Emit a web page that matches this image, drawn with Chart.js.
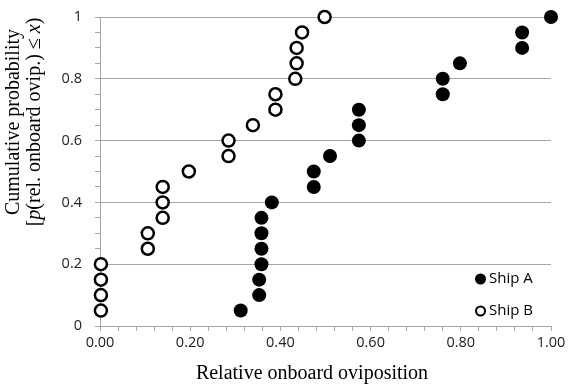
<!DOCTYPE html>
<html>
<head>
<meta charset="utf-8">
<script src="https://cdn.jsdelivr.net/npm/chart.js@4.4.0/dist/chart.umd.min.js"></script>
<style>
  html, body { margin: 0; padding: 0; background: #fff; }
  #wrap { width: 568px; height: 388px; position: relative; }
</style>
</head>
<body>
<div id="wrap"><canvas id="c" width="568" height="388"></canvas></div>
<script>
// ---- data ----
const seriesNames = ['Ship A', 'Ship B'];
const cumProb = [0.05, 0.10, 0.15, 0.20, 0.25, 0.30, 0.35, 0.40, 0.45, 0.50,
                 0.55, 0.60, 0.65, 0.70, 0.75, 0.80, 0.85, 0.90, 0.95, 1.00];
const shipA = [0.312, 0.353, 0.353, 0.358, 0.358, 0.358, 0.358, 0.381, 0.474, 0.474,
               0.510, 0.574, 0.574, 0.574, 0.760, 0.760, 0.798, 0.936, 0.936, 1.000];
const shipB = [0.002, 0.002, 0.002, 0.002, 0.106, 0.106, 0.139, 0.139, 0.139, 0.197,
               0.285, 0.285, 0.339, 0.389, 0.389, 0.433, 0.436, 0.436, 0.448, 0.498];
const xTickLabels = ['0.00', '0.20', '0.40', '0.60', '0.80', '1.00'];
const yTickLabels = ['0', '0.2', '0.4', '0.6', '0.8', '1'];
const xTitle = 'Relative onboard oviposition';
const yTitle1 = 'Cumulative probability';
const yTitle2 = [['[', false], ['p', true], ['(rel. onboard ovip.) \u2264 ', false], ['x', true], [')', false]];

const GRID = '#a6a6a6';
const TICKFONT = { family: "'Open Sans', 'Noto Sans', sans-serif", size: 14.5 };
const SERIF = "'Liberation Serif', 'DejaVu Serif', serif";

function majorIndex(v) {
  const r = v / 0.2;
  const k = Math.round(r);
  return Math.abs(r - k) < 1e-6 ? k : -1;
}

const toPts = (xs) => xs.map((x, i) => ({ x: x, y: cumProb[i] }));

const titlesAndLegend = {
  id: 'titlesAndLegend',
  afterDraw(chart) {
    const ctx = chart.ctx;
    ctx.save();
    ctx.fillStyle = '#000';
    ctx.textBaseline = 'middle';
    // x title
    ctx.font = '20px ' + SERIF;
    ctx.textAlign = 'center';
    ctx.fillText(xTitle, 312, 374);
    // y title (rotated)
    ctx.save();
    ctx.translate(14, 122);
    ctx.rotate(-Math.PI / 2);
    ctx.textAlign = 'center';
    ctx.font = '20px ' + SERIF;
    ctx.fillText(yTitle1, 0, 0);
    let total = 0;
    yTitle2.forEach(([t, it]) => {
      ctx.font = (it ? 'italic ' : '') + '20px ' + SERIF;
      total += ctx.measureText(t).width;
    });
    let xpos = -total / 2;
    ctx.textAlign = 'left';
    yTitle2.forEach(([t, it]) => {
      ctx.font = (it ? 'italic ' : '') + '20px ' + SERIF;
      ctx.fillText(t, xpos, 21);
      xpos += ctx.measureText(t).width;
    });
    ctx.restore();
    // legend
    const items = [
      { name: seriesNames[0], y: 279, filled: true },
      { name: seriesNames[1], y: 311, filled: false }
    ];
    ctx.font = '15px ' + TICKFONT.family;
    ctx.textAlign = 'left';
    items.forEach(it => {
      ctx.beginPath();
      if (it.filled) {
        ctx.arc(480.5, it.y, 5.5, 0, Math.PI * 2);
        ctx.fillStyle = '#000';
        ctx.fill();
      } else {
        ctx.arc(480.5, it.y, 4.5, 0, Math.PI * 2);
        ctx.lineWidth = 2;
        ctx.strokeStyle = '#000';
        ctx.stroke();
      }
      ctx.fillStyle = '#000';
      ctx.fillText(it.name, 489, it.y);
    });
    ctx.restore();
  }
};

new Chart(document.getElementById('c'), {
  type: 'scatter',
  data: {
    datasets: [
      {
        label: seriesNames[0],
        data: toPts(shipA),
        pointRadius: 7,
        pointHoverRadius: 7,
        backgroundColor: '#000',
        borderColor: '#000',
        borderWidth: 0,
        clip: false
      },
      {
        label: seriesNames[1],
        data: toPts(shipB),
        pointRadius: 6,
        pointHoverRadius: 6,
        backgroundColor: '#fff',
        borderColor: '#000',
        borderWidth: 2.5,
        clip: false
      }
    ]
  },
  options: {
    responsive: false,
    animation: false,
    devicePixelRatio: 1,
    layout: { padding: { left: 0, right: 17, top: 17, bottom: 0 } },
    plugins: {
      legend: { display: false },
      tooltip: { enabled: false }
    },
    scales: {
      x: {
        type: 'linear',
        position: 'bottom',
        min: 0,
        max: 1,
        afterFit(scale) { scale.height = 62; scale.paddingLeft = 0; scale.paddingRight = 0; },
        border: { display: true, color: GRID, width: 1 },
        grid: {
          drawOnChartArea: false,
          drawTicks: true,
          tickLength: 5,
          tickColor: GRID
        },
        ticks: {
          stepSize: 0.04,
          autoSkip: false,
          maxRotation: 0,
          minRotation: 0,
          padding: 3,
          color: '#222',
          font: TICKFONT,
          callback(v) {
            const k = majorIndex(v);
            return k >= 0 ? xTickLabels[k] : '';
          }
        }
      },
      y: {
        type: 'linear',
        min: 0,
        max: 1,
        afterFit(scale) { scale.width = 100; scale.paddingTop = 0; scale.paddingBottom = 0; },
        border: { display: true, color: GRID, width: 1 },
        grid: {
          drawTicks: true,
          tickLength: 5,
          tickColor: GRID,
          color(ctx) {
            if (!ctx.tick) return 'transparent';
            const k = majorIndex(ctx.tick.value);
            return (k > 0) ? GRID : 'transparent';
          }
        },
        ticks: {
          stepSize: 0.05,
          autoSkip: false,
          padding: 13,
          color: '#222',
          font: TICKFONT,
          callback(v) {
            const k = majorIndex(v);
            return k >= 0 ? yTickLabels[k] : '';
          }
        }
      }
    }
  },
  plugins: [titlesAndLegend]
});
</script>
</body>
</html>
